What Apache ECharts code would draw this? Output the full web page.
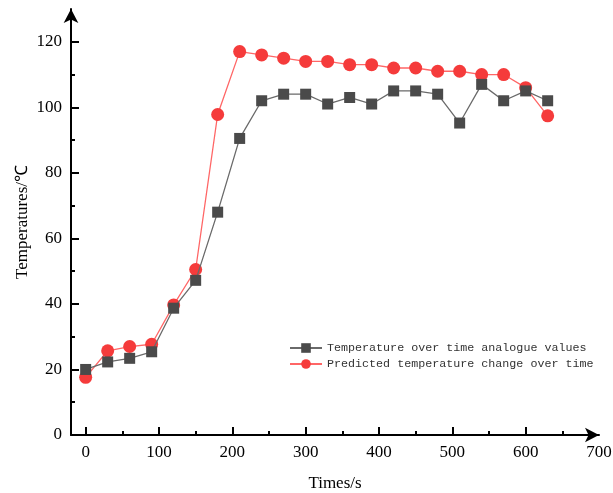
<!DOCTYPE html>
<html>
<head>
<meta charset="utf-8">
<script src="https://cdn.jsdelivr.net/npm/echarts@6/dist/echarts.min.js"></script>
<style>
  html, body { margin: 0; padding: 0; background: #fff; }
  #chart { width: 613px; height: 493px; }
</style>
</head>
<body>
<div id="chart"></div>
<script>
// time points (s)
var times = [0, 30, 60, 90, 120, 150, 180, 210, 240, 270, 300, 330, 360, 390, 420, 450, 480, 510, 540, 570, 600, 630];
// simulated values (black squares)
var analogue = [20, 22.3, 23.4, 25.4, 38.7, 47.2, 68, 90.5, 102, 104, 104, 101, 103, 101, 105, 105, 104, 95.2, 107, 102, 105, 102];
// predicted values (red circles)
var predicted = [17.6, 25.7, 27, 27.7, 39.7, 50.5, 97.8, 117, 116, 115, 114, 114, 113, 113, 112, 112, 111, 111, 110, 110, 106, 97.4];

var xLabels = [0, 100, 200, 300, 400, 500, 600, 700];
var xMajor = [0, 100, 200, 300, 400, 500, 600];
var xMinor = [50, 150, 250, 350, 450, 550, 650];
var yLabels = [0, 20, 40, 60, 80, 100, 120];
var yMajor = [20, 40, 60, 80, 100, 120];
var yMinor = [10, 30, 50, 70, 90, 110];

var seriesNames = ["Temperature over time analogue values", "Predicted temperature change over time"];

var chart = echarts.init(document.getElementById("chart"));

var labelFont = { fontFamily: "Liberation Serif", fontSize: 17, color: "#000" };

function pairs(vals) {
  return times.map(function (t, i) { return [t, vals[i]]; });
}

var option = {
  animation: false,
  backgroundColor: "#fff",
  grid: { left: 71, right: 14, top: 9, bottom: 58, containLabel: false, outerBoundsMode: "none" },
  legend: {
    orient: "vertical",
    left: 284,
    top: 337,
    itemWidth: 32,
    itemHeight: 12,
    itemGap: 4,
    textStyle: { fontFamily: "Liberation Mono", fontSize: 11.7, color: "#333" },
    data: seriesNames
  },
  xAxis: [
    {
      type: "value",
      min: -20,
      max: 700,
      name: "Times/s",
      nameLocation: "middle",
      nameGap: 40,
      nameMoveOverlap: false,
      nameTextStyle: labelFont,
      splitLine: { show: false },
      axisLine: {
        onZero: false,
        lineStyle: { color: "#000", width: 2 },
        symbol: ["none", "arrow"],
        symbolSize: [11, 14]
      },
      axisTick: { inside: true, length: 8, customValues: xMajor, lineStyle: { color: "#000", width: 2 } },
      axisLabel: Object.assign({ customValues: xLabels, margin: 9 }, labelFont)
    },
    {
      type: "value",
      min: -20,
      max: 700,
      position: "bottom",
      splitLine: { show: false },
      axisLine: { show: false, onZero: false },
      axisTick: { inside: true, length: 4, customValues: xMinor, lineStyle: { color: "#000", width: 2 } },
      axisLabel: { show: false }
    }
  ],
  yAxis: [
    {
      type: "value",
      min: 0,
      max: 130,
      name: "Temperatures/\u2103",
      nameLocation: "middle",
      nameGap: 40,
      nameMoveOverlap: false,
      nameTextStyle: labelFont,
      splitLine: { show: false },
      axisLine: {
        onZero: false,
        lineStyle: { color: "#000", width: 2 },
        symbol: ["none", "arrow"],
        symbolSize: [11, 14]
      },
      axisTick: { inside: true, length: 8, customValues: yMajor, lineStyle: { color: "#000", width: 2 } },
      axisLabel: Object.assign({ customValues: yLabels, margin: 9 }, labelFont)
    },
    {
      type: "value",
      min: 0,
      max: 130,
      position: "left",
      splitLine: { show: false },
      axisLine: { show: false, onZero: false },
      axisTick: { inside: true, length: 4, customValues: yMinor, lineStyle: { color: "#000", width: 2 } },
      axisLabel: { show: false }
    }
  ],
  series: [
    {
      name: seriesNames[0],
      type: "line",
      data: pairs(analogue),
      symbol: "rect",
      symbolSize: 11,
      itemStyle: { color: "#4a4a4a" },
      lineStyle: { color: "#6a6a6a", width: 1.3 },
      z: 3
    },
    {
      name: seriesNames[1],
      type: "line",
      data: pairs(predicted),
      symbol: "circle",
      symbolSize: 13,
      itemStyle: { color: "#f53b3b" },
      lineStyle: { color: "#ff6666", width: 1.3 },
      z: 2
    }
  ]
};

chart.setOption(option);
</script>
</body>
</html>
